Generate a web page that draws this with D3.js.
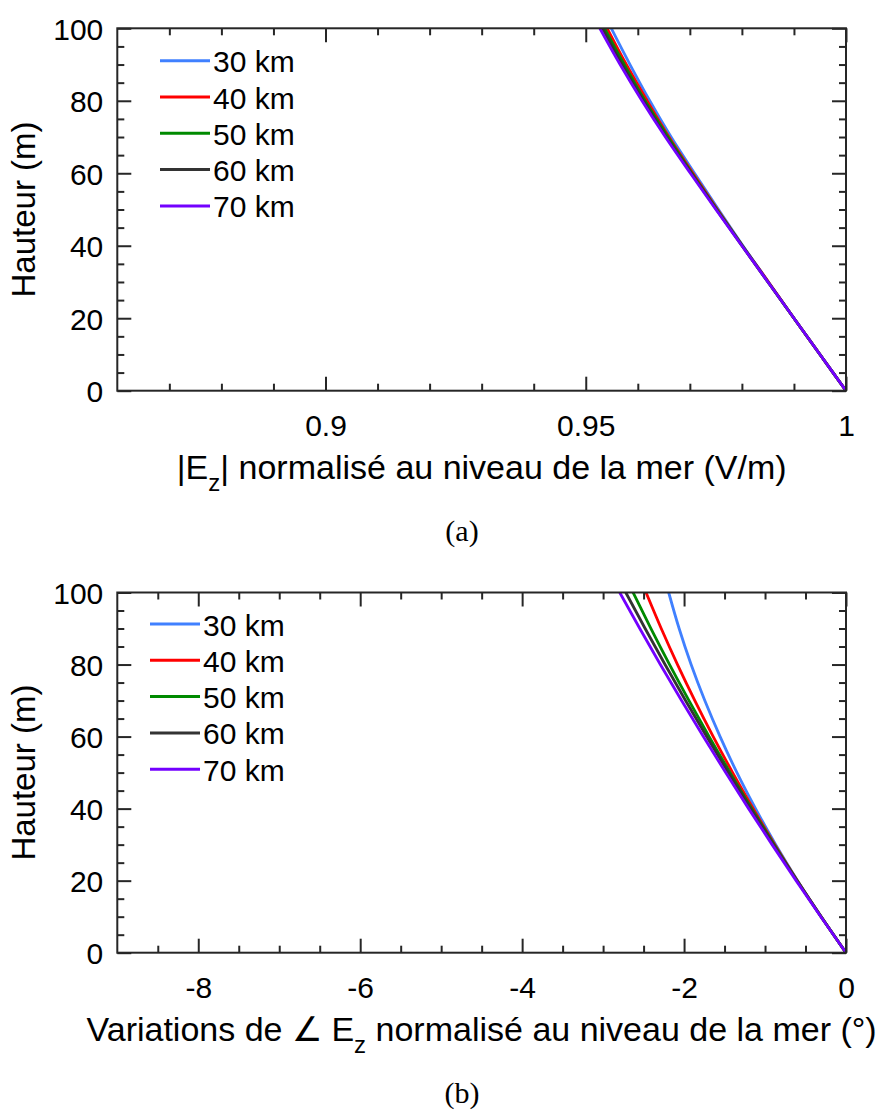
<!DOCTYPE html>
<html>
<head>
<meta charset="utf-8">
<script src="https://cdn.jsdelivr.net/npm/d3@7"></script>
<style>
  html, body { margin: 0; padding: 0; background: #ffffff; }
  svg { display: block; }
  text { font-family: "Liberation Sans", Arial, Helvetica, sans-serif; fill: #000; }
</style>
</head>
<body>
<svg id="chart" width="877" height="1113"></svg>
<script>
// ---------------- data ----------------
const heights = [0, 10, 20, 30, 40, 50, 60, 70, 80, 90, 100];
const seriesNames = ["30 km", "40 km", "50 km", "60 km", "70 km"];
const seriesColors = ["#4080ff", "#ff0000", "#008a00", "#333333", "#7300ff"];

// (a) |Ez| normalised at sea level
const mag30 = [1, 0.9950, 0.9900, 0.9851, 0.9802, 0.9755, 0.9709, 0.9664, 0.9623, 0.9585, 0.9549];
const mag40 = [1, 0.9950, 0.9900, 0.9851, 0.9801, 0.9753, 0.9706, 0.9660, 0.9618, 0.9578, 0.9541];
const mag50 = [1, 0.9950, 0.9900, 0.9850, 0.9801, 0.9752, 0.9704, 0.9658, 0.9614, 0.9574, 0.9536];
const mag60 = [1, 0.9950, 0.9900, 0.9850, 0.9800, 0.9751, 0.9703, 0.9655, 0.9611, 0.9570, 0.9532];
const mag70 = [1, 0.9950, 0.9900, 0.9850, 0.9800, 0.9750, 0.9701, 0.9653, 0.9608, 0.9566, 0.9527];

// (b) phase variation of Ez (degrees)
const ph30 = [0, -0.305, -0.598, -0.868, -1.117, -1.347, -1.555, -1.744, -1.913, -2.061, -2.190];
const ph40 = [0, -0.306, -0.600, -0.879, -1.146, -1.400, -1.640, -1.867, -2.081, -2.282, -2.470];
const ph50 = [0, -0.307, -0.603, -0.887, -1.164, -1.432, -1.690, -1.939, -2.179, -2.409, -2.630];
const ph60 = [0, -0.308, -0.606, -0.894, -1.177, -1.453, -1.721, -1.982, -2.235, -2.481, -2.720];
const ph70 = [0, -0.311, -0.616, -0.913, -1.203, -1.486, -1.762, -2.031, -2.293, -2.547, -2.795];

// ticks
const xTicksA = [0.9, 0.95, 1];
const xTickLabelsA = ["0.9", "0.95", "1"];
const xTicksB = [-8, -6, -4, -2, 0];
const xTickLabelsB = ["-8", "-6", "-4", "-2", "0"];
const yTicks = [0, 20, 40, 60, 80, 100];
const yTickLabels = ["0", "20", "40", "60", "80", "100"];

// ---------------- drawing ----------------
const svg = d3.select("#chart");
const AX = "#262626";

function drawPanel(cfg) {
  const W = cfg.right - cfg.left, H = cfg.bottom - cfg.top;
  const g = svg.append("g").attr("transform", `translate(${cfg.left},${cfg.top})`);
  const x = d3.scaleLinear().domain(cfg.xDomain).range([0, W]);
  const y = d3.scaleLinear().domain([0, 100]).range([H, 0]);

  const clipId = "clip" + cfg.id;
  g.append("clipPath").attr("id", clipId).append("rect")
    .attr("x", -2).attr("y", 0).attr("width", W + 4).attr("height", H + 2);

  // lines
  const line = d3.line()
    .x(d => x(d.v)).y(d => y(d.h))
    .curve(d3.curveMonotoneY);
  cfg.series.forEach((vals, i) => {
    const pts = heights.map((h, k) => ({ h: h, v: vals[k] }));
    g.append("path").datum(pts)
      .attr("d", line)
      .attr("fill", "none")
      .attr("stroke", seriesColors[i])
      .attr("stroke-width", 2.8)
      .attr("clip-path", `url(#${clipId})`);
  });

  // ticks (inward, mirrored)
  const styleTicks = sel => {
    sel.select(".domain").remove();
    sel.selectAll("line").attr("stroke", AX).attr("stroke-width", 2);
  };
  const mk = (axisFn, scale, vals, len, tr) => {
    g.append("g").attr("transform", tr)
      .call(axisFn(scale).tickValues(vals).tickSize(-len).tickFormat(""))
      .call(styleTicks);
  };
  mk(d3.axisBottom, x, cfg.xMajor, 14, `translate(0,${H})`);
  mk(d3.axisBottom, x, cfg.xMinor, 7, `translate(0,${H})`);
  mk(d3.axisTop, x, cfg.xMajor, 14, `translate(0,0)`);
  mk(d3.axisTop, x, cfg.xMinor, 7, `translate(0,0)`);
  mk(d3.axisLeft, y, yTicks, 14, `translate(0,0)`);
  mk(d3.axisLeft, y, cfg.yMinor, 7, `translate(0,0)`);
  mk(d3.axisRight, y, yTicks, 14, `translate(${W},0)`);
  mk(d3.axisRight, y, cfg.yMinor, 7, `translate(${W},0)`);

  // frame
  g.append("rect").attr("x", 0).attr("y", 0).attr("width", W).attr("height", H)
    .attr("fill", "none").attr("stroke", AX).attr("stroke-width", 2);

  // tick labels
  const xl = g.append("g").attr("transform", `translate(0,${H})`)
    .call(d3.axisBottom(x).tickValues(cfg.xMajor).tickSize(0)
      .tickFormat((d, i) => cfg.xLabels[i]));
  xl.select(".domain").remove();
  xl.selectAll("text").attr("y", 45.5).attr("dy", null)
    .style("font-size", "30px").style("font-family", '"Liberation Sans", Arial, sans-serif').attr("fill", "#000");

  const yl = g.append("g")
    .call(d3.axisLeft(y).tickValues(yTicks).tickSize(0)
      .tickFormat((d, i) => yTickLabels[i]));
  yl.select(".domain").remove();
  yl.selectAll("text").attr("x", -14).attr("dy", "0.36em")
    .style("font-size", "30px").style("font-family", '"Liberation Sans", Arial, sans-serif').attr("fill", "#000");

  // y label
  svg.append("text")
    .attr("transform", `translate(35,${cfg.top + H / 2}) rotate(-90)`)
    .attr("text-anchor", "middle")
    .style("font-size", "33px")
    .text("Hauteur (m)");

  // x label with subscript
  const t = svg.append("text")
    .attr("x", cfg.left + W / 2).attr("y", cfg.bottom + 88)
    .attr("text-anchor", "middle")
    .style("font-size", "34px");
  t.append("tspan").text(cfg.xLabelPre);
  t.append("tspan").attr("dy", 12).style("font-size", "24px").text("z");
  t.append("tspan").attr("dy", -12).text(cfg.xLabelPost);

  // legend
  const lg = svg.append("g");
  seriesNames.forEach((name, i) => {
    const ly = cfg.legendY + i * 36.3;
    lg.append("line")
      .attr("x1", cfg.legendX).attr("x2", cfg.legendX + 50)
      .attr("y1", ly).attr("y2", ly)
      .attr("stroke", seriesColors[i]).attr("stroke-width", 3);
    lg.append("text")
      .attr("x", cfg.legendX + 53).attr("y", ly + 11.5)
      .style("font-size", "30px")
      .text(name);
  });

  // caption
  svg.append("text")
    .attr("x", 462).attr("y", cfg.bottom + cfg.captionDy)
    .attr("text-anchor", "middle")
    .style("font-family", '"Liberation Serif", "DejaVu Serif", serif')
    .style("font-size", "30px")
    .text(cfg.caption);
}

drawPanel({
  id: "a",
  left: 117.3, right: 846, top: 28.3, bottom: 390.7,
  xDomain: [0.86, 1],
  xMajor: xTicksA, xLabels: xTickLabelsA,
  xMinor: d3.range(0.87, 0.995, 0.01).filter(v => Math.abs(v - 0.9) > 1e-6 && Math.abs(v - 0.95) > 1e-6),
  yMinor: d3.range(5, 100, 5).filter(v => v % 20 !== 0),
  series: [mag30, mag40, mag50, mag60, mag70],
  xLabelPre: "|E", xLabelPost: "| normalisé au niveau de la mer (V/m)",
  legendX: 160, legendY: 60.7,
  caption: "(a)", captionDy: 150
});

drawPanel({
  id: "b",
  left: 117.3, right: 846, top: 592.5, bottom: 952.7,
  xDomain: [-9, 0],
  xMajor: xTicksB, xLabels: xTickLabelsB,
  xMinor: d3.range(-8.5, 0, 0.5).filter(v => v % 2 !== 0),
  yMinor: d3.range(5, 100, 5).filter(v => v % 20 !== 0),
  series: [ph30, ph40, ph50, ph60, ph70],
  xLabelPre: "Variations de \u2220 E", xLabelPost: " normalisé au niveau de la mer (°)",
  legendX: 150, legendY: 624,
  caption: "(b)", captionDy: 150
});
</script>
</body>
</html>
